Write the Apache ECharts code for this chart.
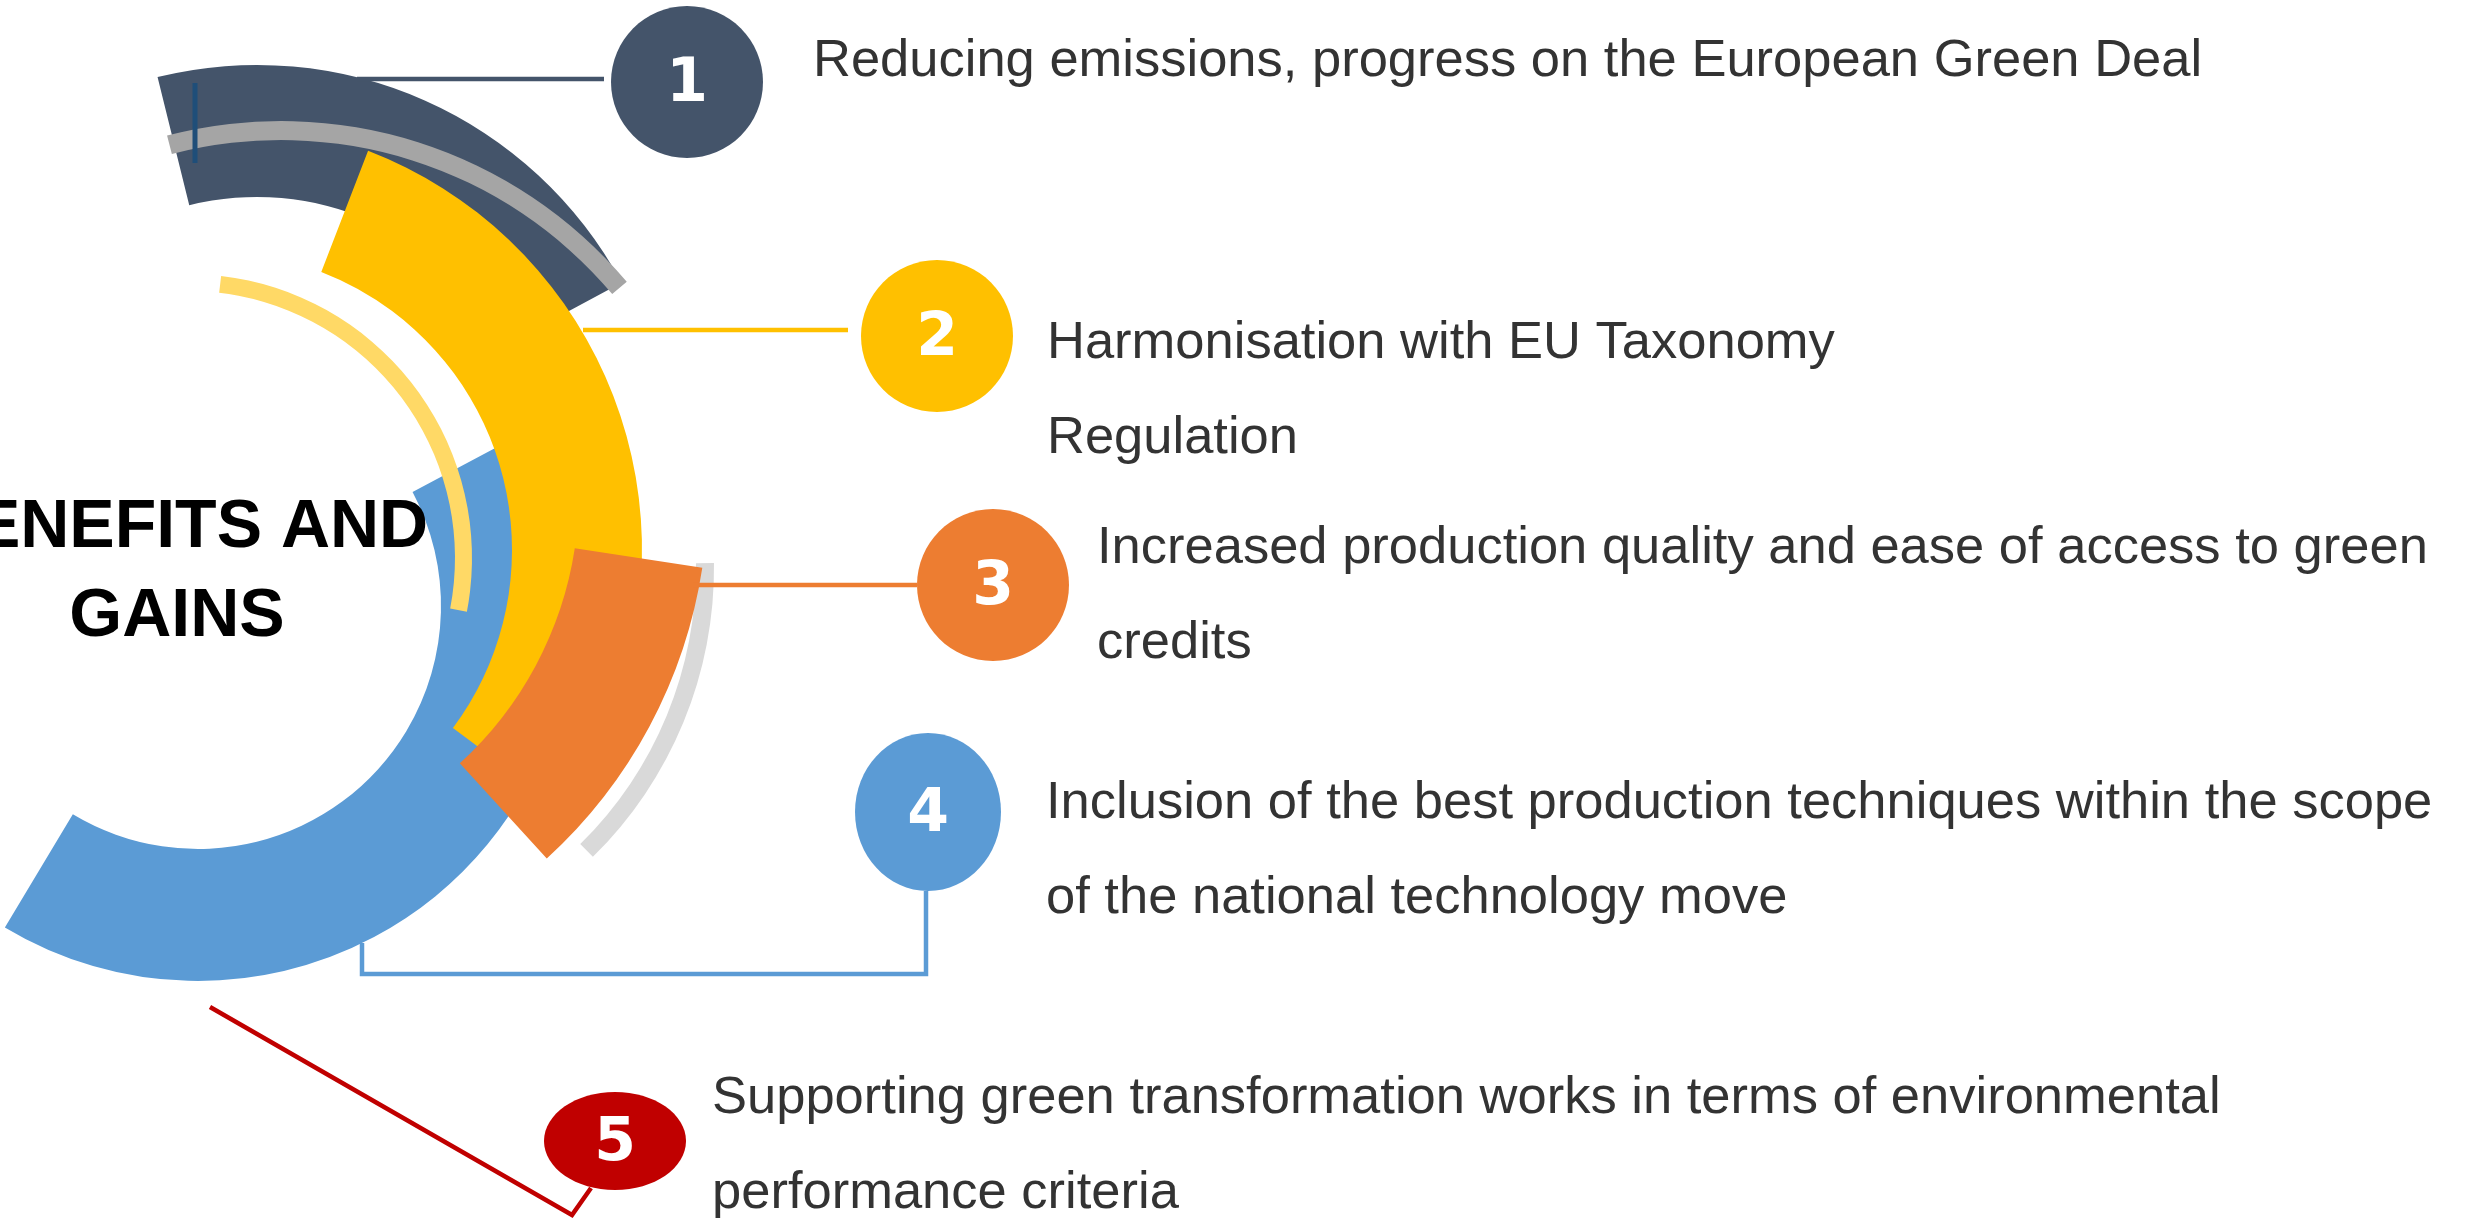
<!DOCTYPE html>
<html><head><meta charset="utf-8">
<script src="https://cdn.jsdelivr.net/npm/echarts@6/dist/echarts.min.js"></script>
<style>html,body{margin:0;padding:0;background:#fff;overflow:hidden}#c{width:2478px;height:1218px}</style>
</head><body><div id="c"></div>
<script>
// ---- content ----
const itemNumbers = ['1', '2', '3', '4', '5'];
const itemLines = [
  ['Reducing emissions, progress on the European Green Deal'],
  ['Harmonisation with EU Taxonomy', 'Regulation'],
  ['Increased production quality and ease of access to green', 'credits'],
  ['Inclusion of the best production techniques within the scope', 'of the national technology move'],
  ['Supporting green transformation works in terms of environmental', 'performance criteria']
];
const titleLines = ['BENEFITS AND', 'GAINS'];
// angular extent of each arc, in degrees
const arcNames = ['Item 1 arc', 'Item 1 band', 'Item 2 arc', 'Item 2 band', 'Item 4 arc', 'Item 3 arc', 'Item 3 band'];
const arcSpans = [75.6, 64.5, 105.6, 94.2, 149, 38.9, 46.2];

// ---- layout (positions / styles) ----
const arcLayout = [
  { center: [257, 479], radius: [282, 414], start: 103.9, color: '#44546A', z: 2 },
  { center: [281, 573], radius: [433, 452], start: 104.6, color: '#A5A5A5', z: 4 },
  { center: [214, 550], radius: [298, 428], start: 68.9, color: '#FFC000', z: 3 },
  { center: [188, 558], radius: [267, 284], start: 83.3, color: '#FFD966', z: 4 },
  { center: [198, 606], radius: [243, 375], start: 28, color: '#5B9BD5', z: 1 },
  { center: [213, 493], radius: [366, 495], start: -8.7, color: '#ED7D31', z: 5 },
  { center: [309, 568], radius: [387, 405], start: 0.7, color: '#D9D9D9', z: 4 }
];
const badgeLayout = [
  { cx: 687, cy: 82, rx: 76, ry: 76, color: '#44546A' },
  { cx: 937, cy: 336, rx: 76, ry: 76, color: '#FFC000' },
  { cx: 993, cy: 585, rx: 76, ry: 76, color: '#ED7D31' },
  { cx: 928, cy: 812, rx: 73, ry: 79, color: '#5B9BD5' },
  { cx: 615, cy: 1141, rx: 71, ry: 49, color: '#C00000' }
];
const textLayout = [
  { x: 813, base: [77] },
  { x: 1047, base: [359, 454] },
  { x: 1097, base: [564, 659] },
  { x: 1046, base: [819, 914] },
  { x: 712, base: [1114, 1209] }
];
const connectorLayout = [
  { pts: [[357, 79], [604, 79]], color: '#44546A' },
  { pts: [[583, 330], [848, 330]], color: '#FFC000' },
  { pts: [[693, 585], [917, 585]], color: '#ED7D31' },
  { pts: [[362, 943], [362, 974], [926, 974], [926, 891]], color: '#5B9BD5' },
  { pts: [[210, 1007], [572, 1215], [591, 1188]], color: '#C00000' }
];

const TEXT_FS = 52.5;
const textFont = TEXT_FS + 'px "Liberation Sans", Arial, sans-serif';
const TITLE_FS = 68;

const series = arcSpans.map((span, i) => {
  const L = arcLayout[i];
  return {
    type: 'pie', name: arcNames[i], silent: true, animation: false,
    center: L.center, radius: L.radius, startAngle: L.start, clockwise: true,
    z: L.z, label: { show: false }, labelLine: { show: false },
    avoidLabelOverlap: false,
    data: [
      { value: span, name: arcNames[i], itemStyle: { color: L.color } },
      { value: 360 - span, name: '', itemStyle: { color: 'rgba(0,0,0,0)' } }
    ]
  };
});

const graphics = [];
connectorLayout.forEach(c => {
  graphics.push({ type: 'polyline', z: 10, silent: true,
    shape: { points: c.pts }, style: { stroke: c.color, lineWidth: 4.5, fill: null } });
});
// small marker on item 1 arc
graphics.push({ type: 'line', z: 11, silent: true,
  shape: { x1: 195, y1: 83, x2: 195, y2: 163 }, style: { stroke: '#1F4E79', lineWidth: 5 } });

itemNumbers.forEach((n, i) => {
  const b = badgeLayout[i];
  graphics.push({ type: 'ellipse', z: 12, silent: true,
    shape: { cx: b.cx, cy: b.cy, rx: b.rx, ry: b.ry }, style: { fill: b.color } });
  graphics.push({ type: 'text', z: 13, silent: true, x: b.cx, y: b.cy + 3,
    style: { text: n, fill: '#ffffff', font: 'bold 60px "DejaVu Sans", sans-serif',
      textAlign: 'center', textVerticalAlign: 'middle' } });
});

// baseline -> bottom of line box (descent)
const descent = fs => Math.round(fs * 0.21);
itemLines.forEach((lines, i) => {
  const t = textLayout[i];
  lines.forEach((ln, j) => {
    graphics.push({ type: 'text', z: 13, silent: true, x: t.x, y: t.base[j] + descent(TEXT_FS),
      style: { text: ln, fill: '#333333', font: textFont,
        textAlign: 'left', textVerticalAlign: 'bottom' } });
  });
});

const titleBase = [548, 637];
titleLines.forEach((ln, j) => {
  graphics.push({ type: 'text', z: 13, silent: true, x: 177, y: titleBase[j] + descent(TITLE_FS),
    style: { text: ln, fill: '#000000', font: 'bold ' + TITLE_FS + 'px "Liberation Sans", Arial, sans-serif',
      textAlign: 'center', textVerticalAlign: 'bottom' } });
});

const chart = echarts.init(document.getElementById('c'), null, { renderer: 'canvas' });
chart.setOption({
  backgroundColor: '#ffffff',
  animation: false,
  series: series,
  graphic: { elements: graphics }
});
</script></body></html>
